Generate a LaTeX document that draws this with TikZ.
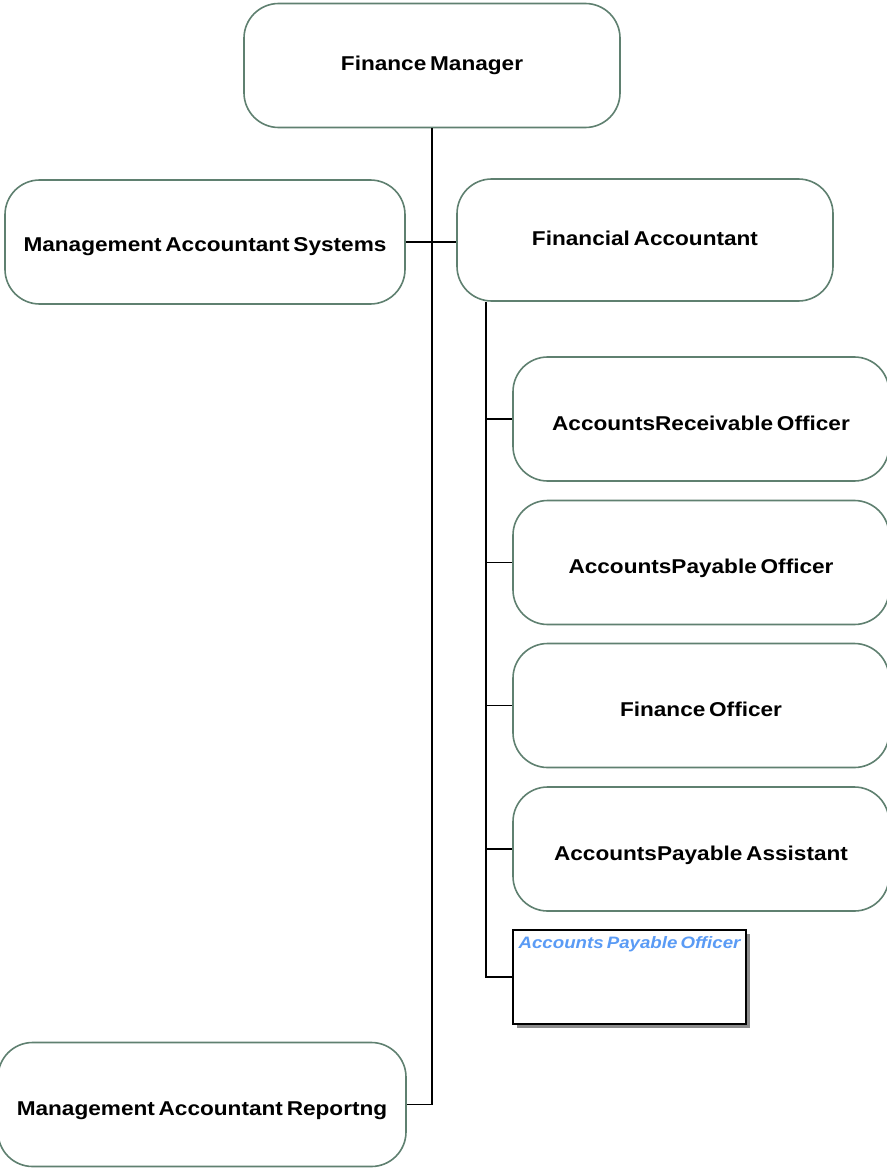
\documentclass[tikz,border=0pt]{standalone}
\usepackage{fontspec}
\setmainfont{Liberation Sans}[FakeStretch=1.13, WordSpace=0.6]
\usetikzlibrary{shadows}
\usetikzlibrary{calc}
\definecolor{boxline}{RGB}{95,128,112}
\definecolor{noteblue}{RGB}{90,155,245}
\tikzstyle{role}=[draw=boxline, line width=1.2pt, rounded corners=26pt, fill=white,
  minimum width=282pt, minimum height=93pt, inner sep=0pt,
  text height=17pt, text depth=0pt,
  font=\fontsize{15}{18}\selectfont\bfseries]
\tikzstyle{link}=[line width=1.4pt, black]

\begin{document}
\begin{tikzpicture}[x=0.75pt, y=-0.75pt]

    \useasboundingbox (0,0) rectangle (887,1173);

    % top of the chart
    \node[role, text height=8pt] (fm) at (432,65.5) {Finance Manager};
    \node[role, minimum width=300pt, text height=15pt] (mas) at (205,242) {Management Accountant Systems};
    \node[role, minimum height=91.5pt, text height=8pt] (fa) at (645,240) {Financial Accountant};

    % staff under the financial accountant
    \foreach \name/\y/\txt in {aro/419/AccountsReceivable Officer,
                              apo/562.5/AccountsPayable Officer,
                              fo/705.5/Finance Officer,
                              apa/849/AccountsPayable Assistant}
        \node[role] (\name) at (701,\y) {\txt};

    \node[draw, line width=1.3pt, fill=white, minimum width=175pt, minimum height=70.5pt,
          drop shadow={shadow xshift=3pt, shadow yshift=-3pt, fill=black!45, opacity=1},
          label={[anchor=north, yshift=-2pt, text=noteblue,
                  font=\fontsize{12.4}{14}\selectfont\bfseries\itshape]north:Accounts Payable Officer}]
          (apo2) at (629.5,977) {};

    \node[role, minimum width=306pt] (mar) at (202,1104.5) {Management Accountant Reportng};

    % connectors
    \draw[link] (fm.south) |- (mar.east);
    \draw[link] (mas.east) -- (mas.east -| fa.west);

    \coordinate (spine) at ($(fa.south west)+(30,0)$);
    \draw[link] (spine) |- (apo2.west);
    \foreach \name in {aro, apo, fo, apa}
        \draw[link] (spine |- \name.west) -- (\name.west);

\end{tikzpicture}
\end{document}
